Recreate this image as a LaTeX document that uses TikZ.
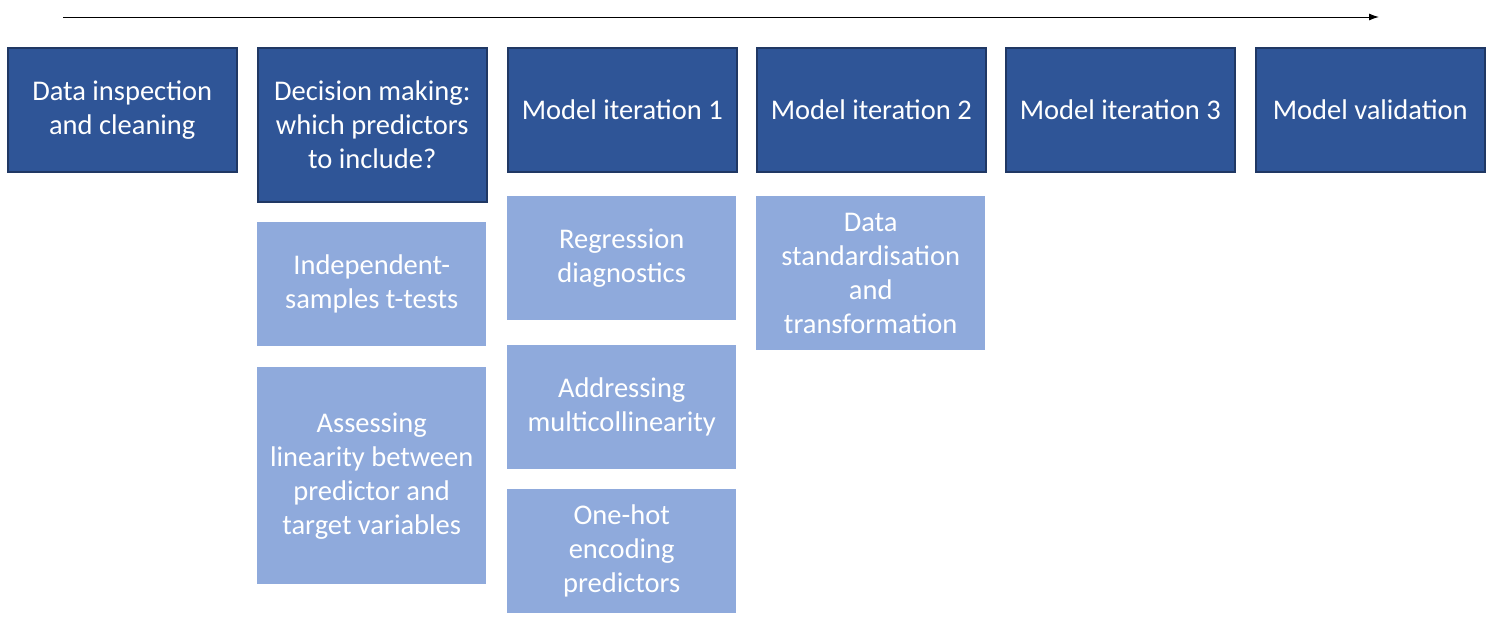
\documentclass[tikz,border=0pt]{standalone}
\usepackage{fontspec}
\setmainfont{Carlito}
\usetikzlibrary{arrows.meta}
\definecolor{darkfill}{HTML}{2F5597}
\definecolor{darkedge}{HTML}{203864}
\definecolor{lightfill}{HTML}{8FAADC}
\begin{document}
\begin{tikzpicture}[x=1pt,y=-1pt,
  box/.style={anchor=north west, minimum width=229pt, inner sep=0pt, align=center,
    text=white, font=\fontsize{28.5}{34}\selectfont},
  darkbox/.style={box, fill=darkfill, draw=darkedge, line width=1.5pt},
  lightbox/.style={box, fill=lightfill}]
\useasboundingbox (0,0) rectangle (1494,625);
\coordinate (t0) at (63,17);
\coordinate (t1) at (1379,17);
\draw[line width=1pt, -{Latex[length=10pt,width=7pt]}] (t0) -- (t1);

\node[darkbox, minimum height=124pt] (d1) at (7,47) {Data inspection\\and cleaning};
\node[darkbox, minimum height=154pt] (d2) at (257,47) {Decision making:\\which predictors\\to include?};
\node[darkbox, minimum height=124pt] (d3) at (507,47) {Model iteration 1};
\node[darkbox, minimum height=124pt] (d4) at (756,47) {Model iteration 2};
\node[darkbox, minimum height=124pt] (d5) at (1005,47) {Model iteration 3};
\node[darkbox, minimum height=124pt] (d6) at (1255,47) {Model validation};

\node[lightbox, minimum height=124pt] (l21) at (257,222) {Independent-\\samples t-tests};
\node[lightbox, minimum height=217pt] (l22) at (257,367) {Assessing\\linearity between\\predictor and\\target variables};
\node[lightbox, minimum height=124pt] (l31) at (507,196) {Regression\\diagnostics};
\node[lightbox, minimum height=124pt] (l32) at (507,345) {Addressing\\multicollinearity};
\node[lightbox, minimum height=124pt] (l33) at (507,489) {One-hot\\encoding\\predictors};
\node[lightbox, minimum height=154pt] (l41) at (756,196) {Data\\standardisation\\and\\transformation};
\end{tikzpicture}
\end{document}
